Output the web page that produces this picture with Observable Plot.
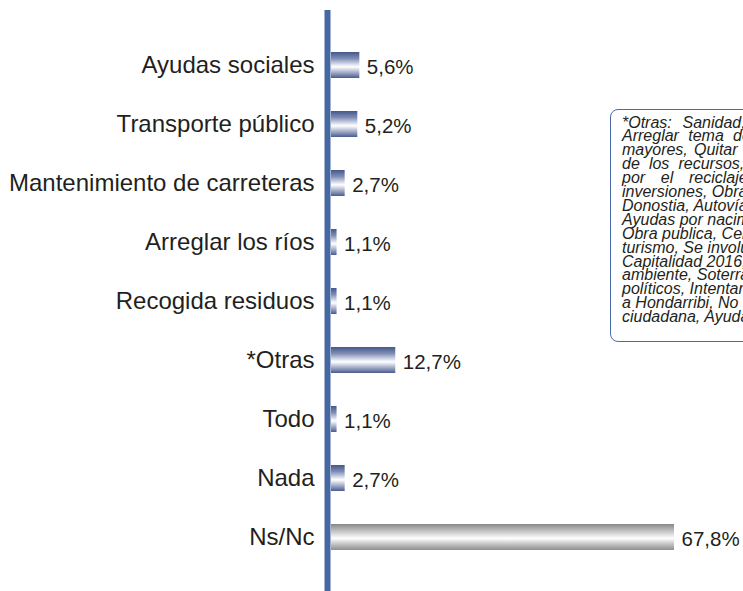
<!DOCTYPE html>
<html><head><meta charset="utf-8">
<script src="https://cdn.jsdelivr.net/npm/d3@7"></script>
<script src="https://cdn.jsdelivr.net/npm/@observablehq/plot@0.6"></script>
<style>
html,body{margin:0;padding:0;background:#fff;overflow:hidden;width:743px;height:591px;}
#wrap{position:relative;width:743px;height:591px;overflow:hidden;}
#note{position:absolute;left:610px;top:109px;width:224px;height:233px;border:1px solid #4a6aa8;border-radius:8px;padding:5.5px 11px;box-sizing:border-box;font:italic 16px "Liberation Sans",Arial,sans-serif;line-height:13.9px;color:#231f20;}
#note div{text-align:left;white-space:nowrap;}
#note div.j{text-align:justify;text-align-last:justify;white-space:normal;}
</style></head>
<body><div id="wrap"><div id="chart"></div><div id="note"></div></div>
<script>
const categories = ["Ayudas sociales","Transporte público","Mantenimiento de carreteras","Arreglar los ríos","Recogida residuos","*Otras","Todo","Nada","Ns/Nc"];
const values = [5.6, 5.2, 2.7, 1.1, 1.1, 12.7, 1.1, 2.7, 67.8];
const valueLabels = ["5,6%","5,2%","2,7%","1,1%","1,1%","12,7%","1,1%","2,7%","67,8%"];
const noteLines = [
  "*Otras: Sanidad, Vivienda,",
  "Arreglar tema de la gente",
  "mayores, Quitar los peajes,",
  "de los recursos, Cuidar el",
  "por el reciclaje, Mejorar",
  "inversiones, Obras en",
  "Donostia, Autovía, Empleo,",
  "Ayudas por nacimiento,",
  "Obra publica, Centro de",
  "turismo, Se involucren,",
  "Capitalidad 2016, Medio",
  "ambiente, Soterrar, Los",
  "políticos, Intentar ayudar",
  "a Hondarribi, No hay",
  "ciudadana, Ayudas"
];
const justifiedLines = 5;

const data = categories.map((c, i) => ({cat: c, v: values[i], label: valueLabels[i]}));

const plot = Plot.plot({
  width: 743, height: 591,
  marginLeft: 331, marginRight: 69, marginTop: 10, marginBottom: 0,
  style: {fontFamily: '"Liberation Sans", Arial, sans-serif', fontSize: "24px", color: "#231f20", background: "white"},
  x: {domain: [0, 67.8], axis: null},
  y: {domain: categories, paddingInner: 0.561, paddingOuter: 0.683, label: null, axis: null},
  marks: [
    Plot.barX(data.filter(d => d.cat !== "Ns/Nc"), {x: "v", y: "cat", fill: "url(#gBlue)"}),
    Plot.barX(data.filter(d => d.cat === "Ns/Nc"), {x: "v", y: "cat", fill: "url(#gGray)"}),
    Plot.ruleX([0], {dx: -4, stroke: "#4668a2", strokeWidth: 6}),
    Plot.axisY({tickSize: 0, tickPadding: 17, fontSize: 24, label: null}),
    Plot.text(data, {x: "v", y: "cat", text: "label", textAnchor: "start", dx: 7, dy: 2, fontSize: 20.5})
  ]
});

const svg = plot.tagName.toLowerCase() === "svg" ? plot : plot.querySelector("svg");
const NS = "http://www.w3.org/2000/svg";
const defs = document.createElementNS(NS, "defs");
function grad(id, stops) {
  const g = document.createElementNS(NS, "linearGradient");
  g.setAttribute("id", id);
  g.setAttribute("x1", "0"); g.setAttribute("y1", "0");
  g.setAttribute("x2", "0"); g.setAttribute("y2", "1");
  for (const [o, c] of stops) {
    const s = document.createElementNS(NS, "stop");
    s.setAttribute("offset", o);
    s.setAttribute("stop-color", c);
    g.appendChild(s);
  }
  defs.appendChild(g);
}
grad("gBlue", [[0, "#44578c"], [0.25, "#7f8db5"], [0.48, "#dde1ed"], [0.57, "#ffffff"], [0.75, "#b3bbd2"], [1, "#4a5b8e"]]);
grad("gGray", [[0, "#88888a"], [0.28, "#c4c4c6"], [0.55, "#ffffff"], [0.8, "#bdbdbf"], [1, "#8e8e90"]]);
svg.insertBefore(defs, svg.firstChild);

document.getElementById("chart").appendChild(plot);

const note = document.getElementById("note");
noteLines.forEach((t, i) => {
  const d = document.createElement("div");
  d.textContent = t;
  if (i < justifiedLines) d.className = "j";
  note.appendChild(d);
});
</script>
</body></html>
